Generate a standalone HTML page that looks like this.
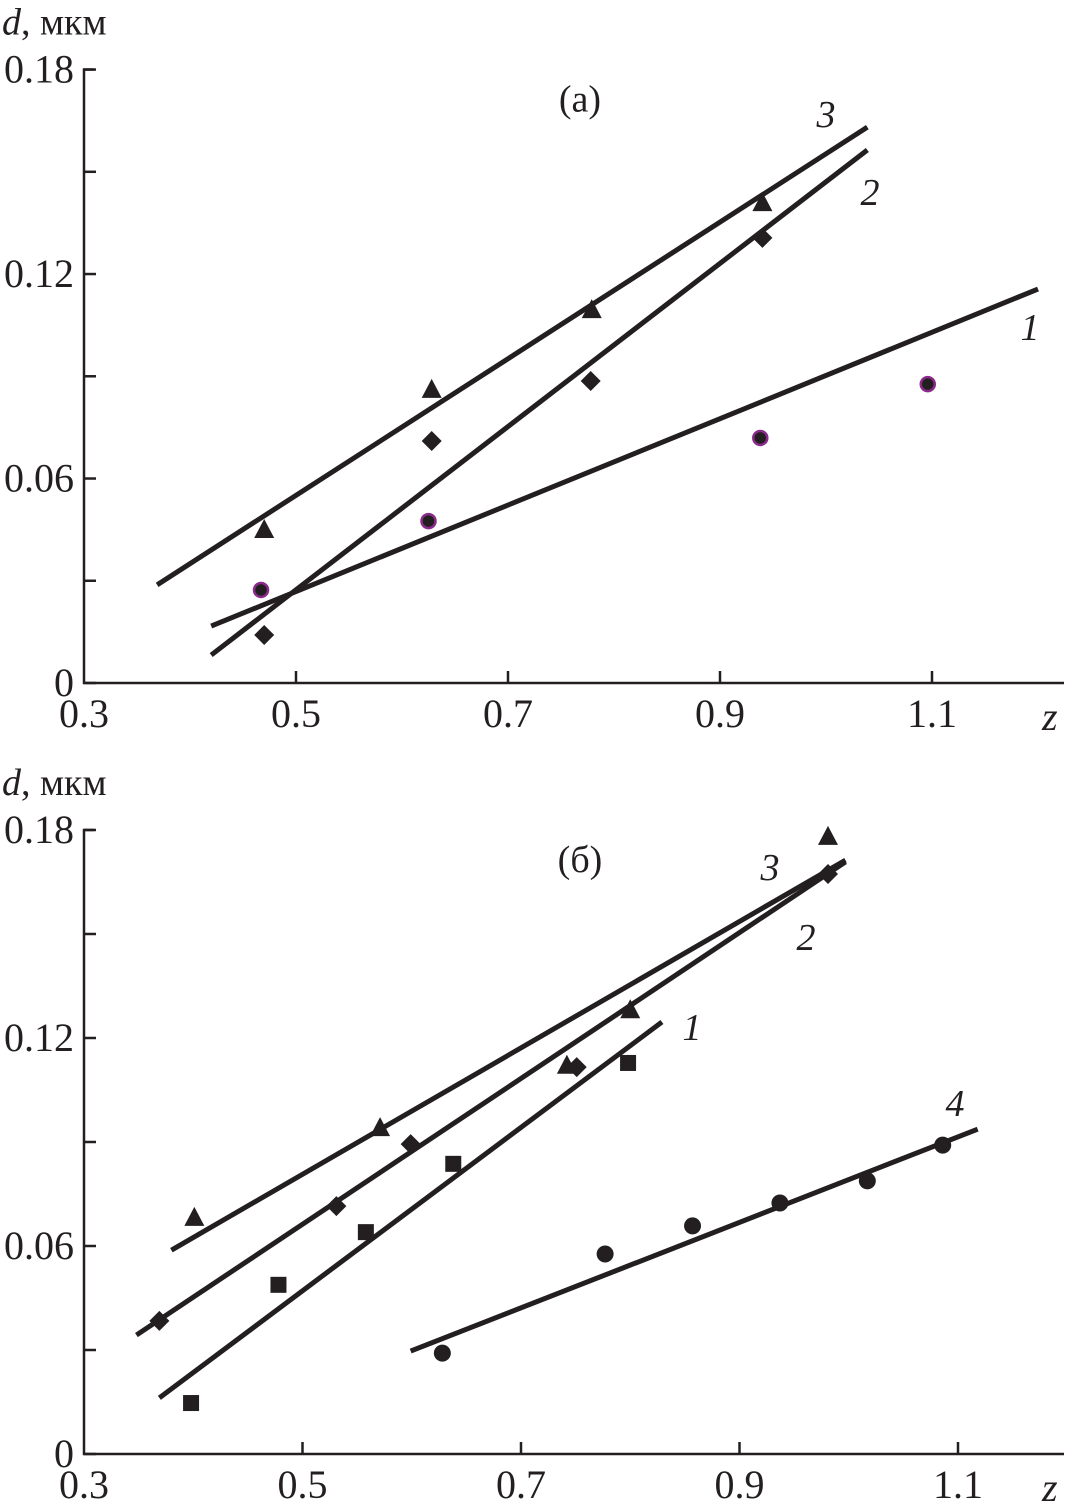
<!DOCTYPE html>
<html><head><meta charset="utf-8"><style>
body{margin:0;background:#fff}
svg{display:block}
text{font-family:"Liberation Serif","DejaVu Serif",serif;fill:#231f20}
</style></head><body>
<svg id="chart" width="1065" height="1510" viewBox="0 0 1065 1510" xmlns="http://www.w3.org/2000/svg"></svg>
<script>
// Panel (a)
const aCircX=[0.467,0.625,0.938,1.096], aCircY=[0.0273,0.0475,0.0719,0.0877];
const aDiaX=[0.47,0.628,0.778,0.94], aDiaY=[0.0141,0.071,0.0886,0.1306];
const aTriX=[0.47,0.628,0.779,0.94], aTriY=[0.0449,0.086,0.1094,0.1408];
const aLine1=[[0.42,0.0167],[1.2,0.1156]];
const aLine2=[[0.42,0.0082],[1.039,0.1564]];
const aLine3=[[0.369,0.0288],[1.039,0.1631]];
// Panel (b)
const bSqX=[0.398,0.478,0.558,0.638,0.798], bSqY=[0.0147,0.0488,0.064,0.0837,0.1128];
const bDiaX=[0.369,0.531,0.599,0.751,0.981], bDiaY=[0.0384,0.0715,0.0894,0.1116,0.1673];
const bTriX=[0.401,0.571,0.742,0.8,0.981], bTriY=[0.0681,0.094,0.112,0.128,0.178];
const bCircX=[0.628,0.777,0.857,0.937,1.017,1.086], bCircY=[0.0291,0.0577,0.0658,0.0724,0.0788,0.0891];
const bLine1=[[0.369,0.0162],[0.829,0.1246]];
const bLine2=[[0.348,0.0343],[0.997,0.1708]];
const bLine3=[[0.38,0.0588],[0.997,0.1713]];
const bLine4=[[0.599,0.0297],[1.118,0.0937]];
const xTicks=[0.3,0.5,0.7,0.9,1.1], xTickLabels=["0.3","0.5","0.7","0.9","1.1"];
const yTicks=[0,0.06,0.12,0.18], yTickLabels=["0","0.06","0.12","0.18"];
const yMinor=[0.03,0.09,0.15];

const svg=document.getElementById('chart');
const NS='http://www.w3.org/2000/svg';
function mk(tag,attrs,parent){const e=document.createElementNS(NS,tag);for(const k in attrs)e.setAttribute(k,attrs[k]);(parent||svg).appendChild(e);return e;}

function panel(p){
  const g=mk('g',{});
  
  
  const X=v=>p.x0+(v-0.3)*p.sx, Y=v=>p.y0-v*p.sy;
  const ax=mk('path',{d:`M${p.x0+10} ${Y(0.18)} H${p.x0} V${p.y0} H1064`,fill:'none',stroke:'#231f20','stroke-width':2.5},g);
  
  
  xTicks.forEach((t,i)=>{
    if(i>0) mk('line',{x1:X(t),x2:X(t),y1:p.y0,y2:p.y0-12,stroke:'#231f20','stroke-width':2.5},g);
    const tx=mk('text',{x:X(t),y:p.y0+44,'font-size':40,'text-anchor':'middle'},g);
    tx.textContent=xTickLabels[i];
    
    
  });
  yTicks.forEach((t,i)=>{
    mk('line',{x1:p.x0,x2:p.x0+12,y1:Y(t),y2:Y(t),stroke:'#231f20','stroke-width':2.5},g);
    const tx=mk('text',{x:p.x0-10,y:Y(t)+13,'font-size':40,'text-anchor':'end'},g);
    tx.textContent=yTickLabels[i];
    
    
  });
  yMinor.forEach(t=>mk('line',{x1:p.x0,x2:p.x0+12,y1:Y(t),y2:Y(t),stroke:'#231f20','stroke-width':2.5},g));
  const yt=mk('text',{x:2,y:Y(0.18)-35,'font-size':38},g);
  yt.innerHTML='<tspan font-style="italic">d</tspan>, мкм';
  
  
  const xt=mk('text',{x:1042,y:p.y0+47,'font-size':40,'font-style':'italic'},g);
  xt.textContent='z';
  
  
  const pt=mk('text',{x:580,y:Y(0.18)+42,'font-size':38,'text-anchor':'middle'},g);
  pt.textContent=p.title;
  
  
  p.lines.forEach(l=>{
    const ln=mk('line',{x1:X(l.d[0][0]),y1:Y(l.d[0][1]),x2:X(l.d[1][0]),y2:Y(l.d[1][1]),stroke:'#231f20','stroke-width':5},g);
    
    
    const lt=mk('text',{x:l.lx,y:l.ly,'font-size':38,'font-style':'italic','text-anchor':'middle'},g);
    lt.textContent=l.label;
    
    
  });
  p.series.forEach(s=>{
    s.x.forEach((xv,i)=>{
      const cx=X(xv), cy=Y(s.y[i]); let e;
      if(s.m==='circle') e=mk('circle',{cx,cy,r:s.r||8,fill:'#231f20',stroke:s.stroke||'none','stroke-width':2.5},g);
      else if(s.m==='square') e=mk('rect',{x:cx-8,y:cy-8,width:16,height:16,fill:'#231f20'},g);
      else if(s.m==='diamond') e=mk('path',{d:`M${cx} ${cy-10} L${cx+10} ${cy} L${cx} ${cy+10} L${cx-10} ${cy}Z`,fill:'#231f20'},g);
      else e=mk('path',{d:`M${cx} ${cy-11} L${cx+10} ${cy+8} L${cx-10} ${cy+8}Z`,fill:'#231f20'},g);
      
      
    });
  });
}
panel({name:'panel-a',title:'(a)',x0:84,y0:683,sx:1060,sy:3408,
  lines:[{d:aLine1,label:'1',lx:1030,ly:340},{d:aLine2,label:'2',lx:870,ly:205},{d:aLine3,label:'3',lx:826,ly:127}],
  series:[{x:aCircX,y:aCircY,m:'circle',r:7,stroke:'#8a2a8a',name:'series-1'},{x:aDiaX,y:aDiaY,m:'diamond',name:'series-2'},{x:aTriX,y:aTriY,m:'triangle',name:'series-3'}]});
panel({name:'panel-b',title:'(б)',x0:84,y0:1454,sx:1092.5,sy:3466.7,
  lines:[{d:bLine1,label:'1',lx:692,ly:1040},{d:bLine2,label:'2',lx:806,ly:950},{d:bLine3,label:'3',lx:770,ly:880},{d:bLine4,label:'4',lx:955,ly:1116}],
  series:[{x:bSqX,y:bSqY,m:'square',name:'series-1'},{x:bDiaX,y:bDiaY,m:'diamond',name:'series-2'},{x:bTriX,y:bTriY,m:'triangle',name:'series-3'},{x:bCircX,y:bCircY,m:'circle',r:8.5,name:'series-4'}]});
</script>
</body></html>
